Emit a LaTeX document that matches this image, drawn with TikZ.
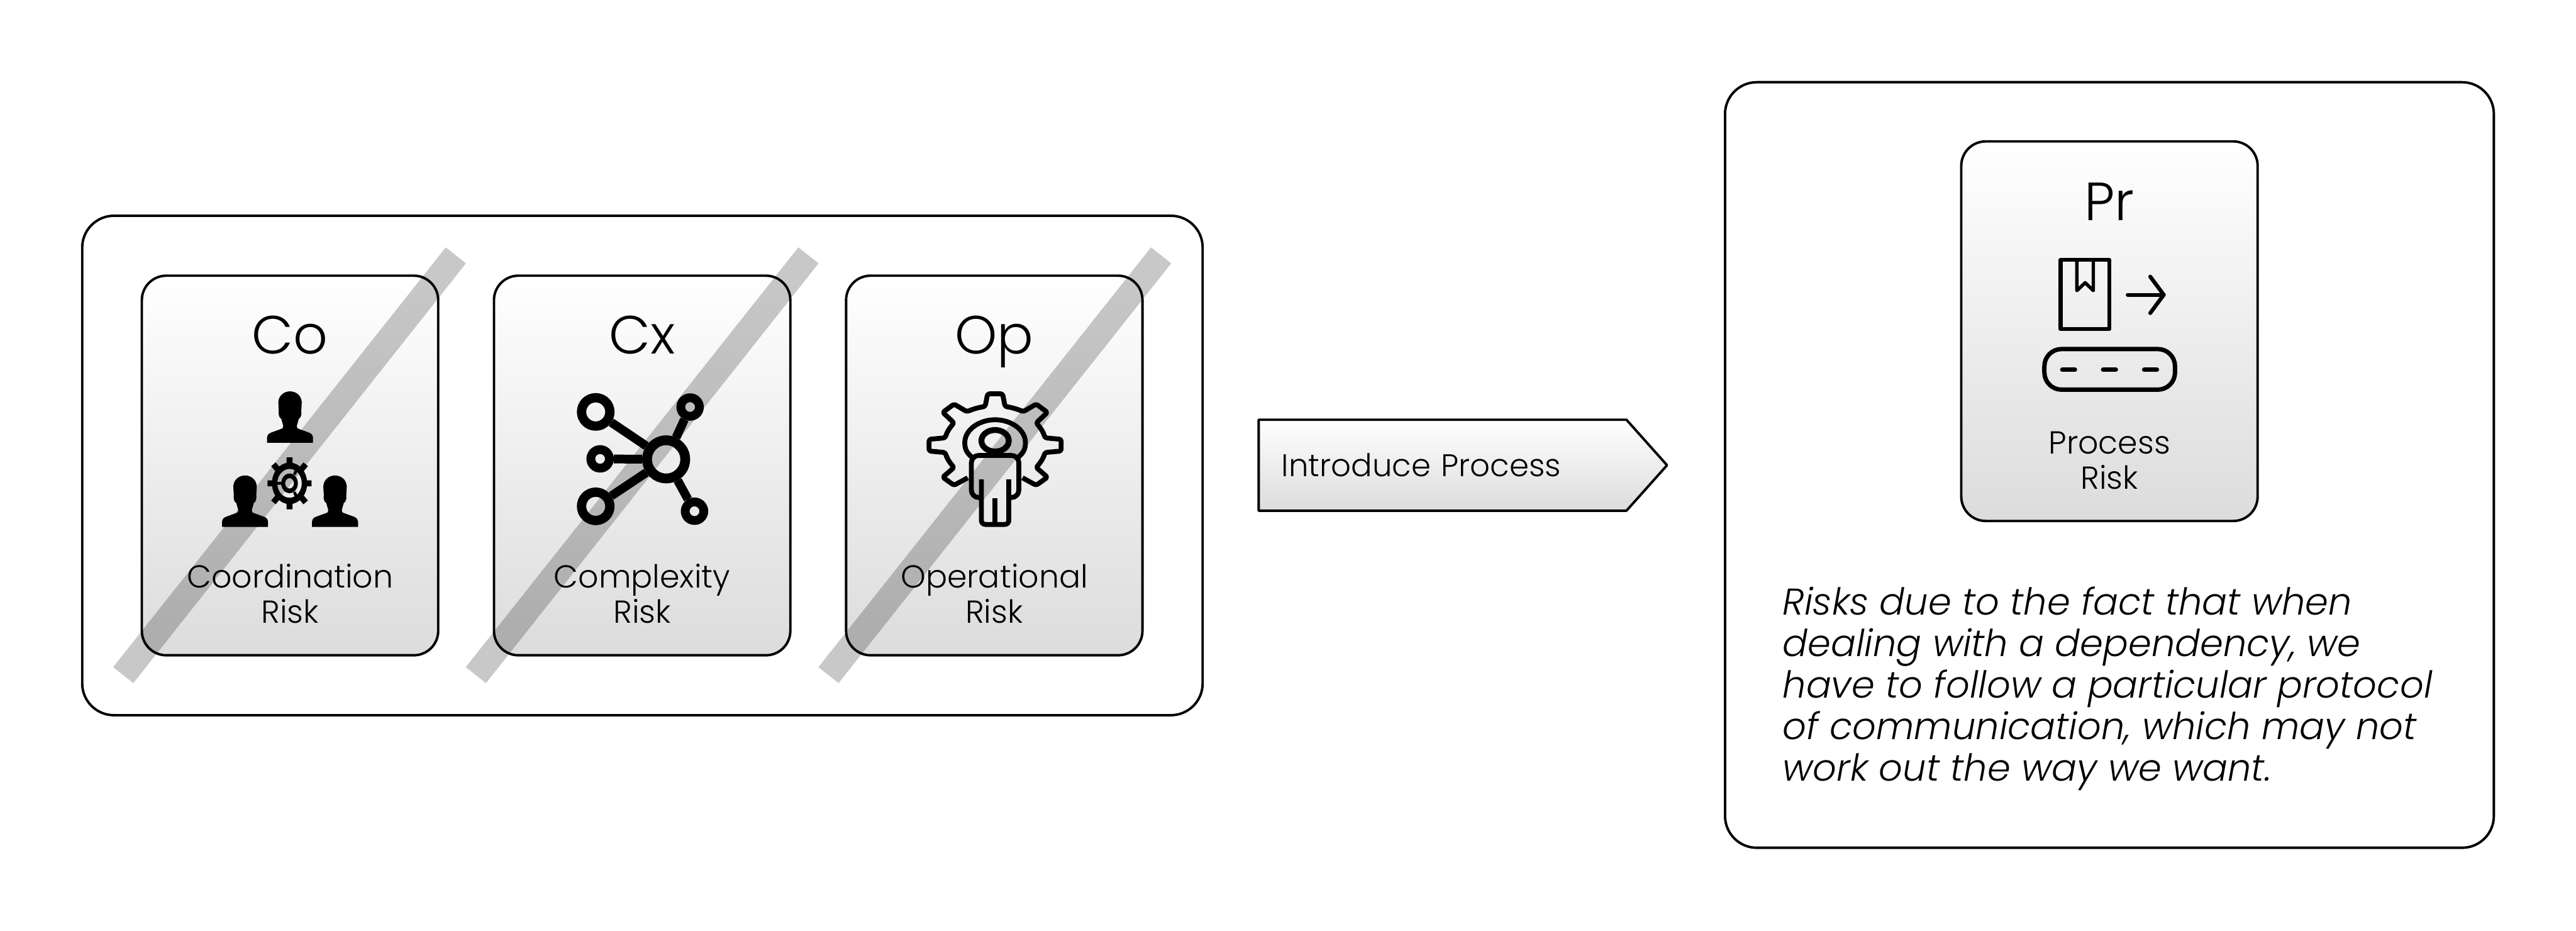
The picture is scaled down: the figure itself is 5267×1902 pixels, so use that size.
\documentclass[tikz,border=0pt]{standalone}
\usepackage{fontspec}
\setmainfont{Poppins Light}
\usetikzlibrary{shapes.symbols}
\definecolor{cardend}{HTML}{DCDCDC}
\tikzset{
    personicon/.pic = {
        \fill (-47,105) -- (-47,94) .. controls (-46,88) and (-43,86) .. (-38,84) -- (-16,76) .. controls (-14,75) and (-14,72) .. (-14,70) -- (-18,56) .. controls (-22,54) and (-24,48) .. (-23,40) -- (-24,22) .. controls (-23,8) and (-12,0) .. (0,0) .. controls (12,0) and (23,8) .. (24,22) -- (23,40) .. controls (24,48) and (22,54) .. (18,56) -- (14,70) .. controls (14,72) and (14,75) .. (16,76) -- (38,84) .. controls (43,86) and (46,88) .. (47,94) -- (47,105) -- cycle;
    }
}
\begin{document}
\begin{tikzpicture}[x=0.1pt, y=-0.1pt, line join=round,
    outer/.style = {draw, rectangle, rounded corners=6.5pt, line width=0.5pt},
    card/.style = {draw, rectangle, rounded corners=5pt, line width=0.5pt, minimum width=60.6pt, minimum height=77.6pt, top color=white, bottom color=cardend},
    title/.style = {font=\fontsize{11}{11}\selectfont, anchor=base},
    label/.style = {font=\fontsize{6.5}{7.2}\selectfont, align=center, anchor=base},
    band/.style = {line width=5.26pt, black, opacity=0.215},
    hubnode/.style = {draw, circle, inner sep=0pt, line width=2pt},
    bigsat/.style = {hubnode, minimum size=5.8pt, line width=1.9pt},
    smallsat/.style = {hubnode, minimum size=3.8pt, line width=1.8pt},
    spoke/.style = {line width=1.8pt},
    thinicon/.style = {line width=1pt},
    boxicon/.style = {line width=0.8pt, line cap=round}]

    \useasboundingbox (0,0) rectangle (5267,1902);

    \node[outer, minimum width=229.1pt, minimum height=102.1pt] (left) at (1313.5,951.5) {};
    \node[outer, minimum width=157.2pt, minimum height=156.5pt] (right) at (4313,950.5) {};

    \node[card] (co) at (593,951.5) {};
    \node[card] (cx) [right of=co, node distance=72pt] {};
    \node[card] (op) [right of=cx, node distance=72pt] {};
    \node[card] (pr) at (4313,677) {};

    \node[title] (t1) [below of=co, node distance=-22.8pt, anchor=base] {Co};
    \node[title] (t2) [below of=cx, node distance=-22.8pt, anchor=base] {Cx};
    \node[title] (t3) [below of=op, node distance=-22.8pt, anchor=base] {Op};
    \node[title] (t4) [below of=pr, node distance=-22.6pt, anchor=base] {Pr};

    \node[label] (l1) [below of=co, node distance=32.2pt, anchor=base] {Coordination\\Risk};
    \node[label] (l2) [below of=cx, node distance=32.2pt, anchor=base] {Complexity\\Risk};
    \node[label] (l3) [below of=op, node distance=32.2pt, anchor=base] {Operational\\Risk};
    \node[label] (l4) [below of=pr, node distance=32.3pt, anchor=base] {Process\\Risk};

    % people and small gear
    \pic at (593,800) {personicon};
    \pic at (501,972) {personicon};
    \pic at (685,972) {personicon};
    \begin{scope}[shift={(592,988)}, yscale=1.18]
        \fill[even odd rule] (0,0) circle (36*0.1pt) (0,0) circle (25*0.1pt) (0,0) circle (17*0.1pt) (0,0) circle (9*0.1pt);
        \draw[line width=1.2pt] (0,-32) -- (0,-45) (0,32) -- (0,45) (32,0) -- (45,0) (-32,0) -- (-45,0) (23,-23) -- (33,-33) (-23,-23) -- (-33,-33) (23,23) -- (33,33) (-23,23) -- (-33,33);
        \draw[line width=0.6pt] (-25,0) -- (-16,0) (10,-15) -- (15,-26) (10,15) -- (15,26);
    \end{scope}

    % network
    \node[hubnode, minimum size=7.8pt] (hub) at (1362,939) {};
    \node[bigsat] (s1) at (1218,842) {};
    \node[smallsat] (s2) at (1227,938) {};
    \node[bigsat] (s3) at (1218,1035) {};
    \node[smallsat] (s4) at (1411,832) {};
    \node[smallsat] (s5) at (1420,1045) {};
    \draw[spoke] (hub) -- (s1);
    \draw[spoke] (hub) -- (s2);
    \draw[spoke] (hub) -- (s3);
    \draw[spoke] (hub) -- (s4);
    \draw[spoke] (hub) -- (s5);

    % gear and worker
    \begin{scope}[shift={(2034.6,910)}, thinicon]
        \draw[rounded corners=0.4pt] (56,66.7) -- (84,82) -- (107,65.5) -- (84,45.5) .. controls (95,33) and (99,25) .. (102,15) -- (135,12) -- (135,-12) -- (102,-15) .. controls (99,-25) and (95,-33) .. (84,-45.5) -- (107,-67) -- (84,-84) -- (57.7,-68.5) .. controls (47,-73) and (35,-77) .. (20.4,-79) -- (15.3,-105) -- (-15.3,-105) -- (-20.4,-79) .. controls (-35,-77) and (-47,-73) .. (-57.7,-68.5) -- (-84,-84) -- (-107,-67) -- (-84,-45.5) .. controls (-95,-33) and (-99,-25) .. (-102,-15) -- (-135,-12) -- (-135,12) -- (-102,15) .. controls (-99,25) and (-95,33) .. (-84,45.5) -- (-107,65.5) -- (-84,82) -- (-56,66.7);
        \draw (-44,27) .. controls (-58,17) and (-62,8) .. (-62,-5) .. controls (-62,-32) and (-32,-52) .. (0,-52) .. controls (32,-52) and (62,-32) .. (62,-5) .. controls (62,8) and (58,17) .. (44,27);
        \draw[line width=1.2pt] (0,-9) ellipse (28*0.1pt and 22*0.1pt);
        \draw[rounded corners=1.5pt] (-28,107) -- (-48.5,107) -- (-48.5,21) -- (48.5,21) -- (48.5,107) -- (28,107);
        \draw[rounded corners=0.8pt] (-28,70) -- (-28,162) -- (28,162) -- (28,70);
        \draw (0,109) -- (0,162);
    \end{scope}

    % parcel on belt
    \draw[boxicon, line cap=butt] (4213,531.5) rectangle (4313,672.7);
    \draw[boxicon, line width=0.7pt] (4246.4,531.5) -- (4246.4,594) -- (4263.4,578) -- (4280,594) -- (4280,531.5);
    \coordinate (a1) at (4350.4,602.6);
    \coordinate (a2) at (4424,602.6);
    \coordinate (a3) at (4396.4,565.5);
    \coordinate (a4) at (4396.4,640);
    \draw[boxicon] (a1) -- (a2);
    \draw[boxicon] (a3) -- (a2) -- (a4);
    \node[draw, rectangle, rounded corners=3.5pt, line width=0.9pt, minimum width=26.7pt, minimum height=8.3pt] (belt) at (4313.5,755) {};
    \draw[boxicon, line width=0.9pt] (4216.5,756) -- (4242.4,756);
    \draw[boxicon, line width=0.9pt] (4300,756) -- (4326,756);
    \draw[boxicon, line width=0.9pt] (4384,756) -- (4410,756);

    % crossing out
    \coordinate (b1) at (932,522);
    \coordinate (b2) at (252,1380);
    \coordinate (b3) at (1653,522);
    \coordinate (b4) at (973,1380);
    \coordinate (b5) at (2374,522);
    \coordinate (b6) at (1694,1380);
    \draw[band] (b1) -- (b2);
    \draw[band] (b3) -- (b4);
    \draw[band] (b5) -- (b6);

    \node[signal, signal to=east, draw, line width=0.5pt, top color=white, bottom color=cardend, minimum height=18.6pt, signal pointer angle=96.5, inner xsep=4.7pt, text width=65.8pt, align=left, anchor=west, font=\fontsize{6.4}{7}\selectfont] (intro) at (2571,951) {\raisebox{-0.3pt}{Introduce Process}};

    \node[anchor=north west, align=left, inner sep=0pt, font=\fontsize{7.6}{8.5}\selectfont\itshape] (desc) at (3643,1197) {Risks due to the fact that when\\dealing with a dependency, we\\have to follow a particular protocol\\of communication, which may not\\work out the way we want.};
\end{tikzpicture}
\end{document}
